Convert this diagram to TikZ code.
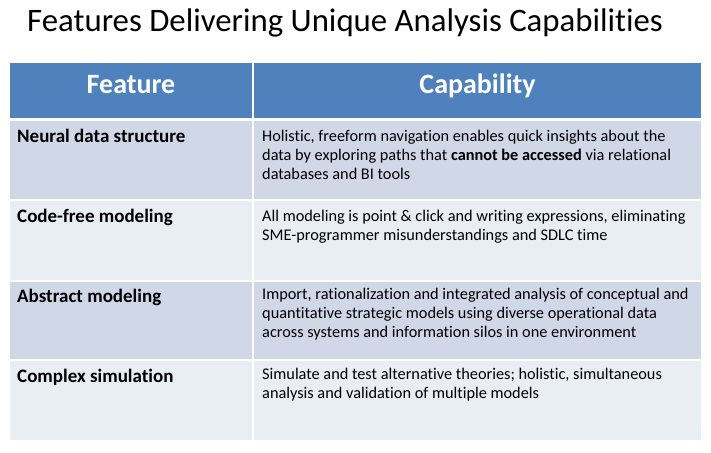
\documentclass[tikz,border=0pt]{standalone}
\usepackage{fontspec}
\setmainfont[Ligatures=NoCommon]{Carlito}
\definecolor{headBlue}{HTML}{4F81BD}
\definecolor{rowDark}{HTML}{D0D8E8}
\definecolor{rowLight}{HTML}{E9EDF4}
\newcommand{\tableLeft}{10}
\newcommand{\tableRight}{701}
\newcommand{\colSplit}{252}
\newcommand{\colGap}{2}
\newcommand{\featX}{17}
\newcommand{\capaX}{262}
\begin{document}
\begin{tikzpicture}[x=1pt, y=-1pt,
    feat/.style={anchor=base west, inner sep=0pt, font=\fontsize{19}{22}\selectfont\bfseries},
    capa/.style={anchor=north west, inner sep=0pt, align=left, font=\fontsize{16.3}{19.3}\selectfont},
    head/.style={anchor=base, inner sep=0pt, text=white, font=\fontsize{28}{32}\selectfont\bfseries}]
  \useasboundingbox (0,0) rectangle (711,452);
  \fill[white] (0,0) rectangle (711,452);
  \node (title) [anchor=base west, inner sep=0pt, font=\fontsize{32.8}{38}\selectfont] at (27,32)
    {Features Delivering Unique Analysis Capabilities};

%header row
\fill[headBlue] (\tableLeft,63) rectangle (\colSplit,118);
\fill[headBlue] (\colSplit+\colGap,63) rectangle (\tableRight,118);
\node (featHead) [head] at ({(\tableLeft+\colSplit)/2},93) {Feature};
\node (capaHead) [head] at ({(\colSplit+\colGap+\tableRight)/2},93) {Capability};

%body rows
\fill[rowDark] (\tableLeft,121) rectangle (\colSplit,199);
\fill[rowDark] (\colSplit+\colGap,121) rectangle (\tableRight,199);
\fill[rowLight] (\tableLeft,201) rectangle (\colSplit,280);
\fill[rowLight] (\colSplit+\colGap,201) rectangle (\tableRight,280);
\fill[rowDark] (\tableLeft,282) rectangle (\colSplit,359);
\fill[rowDark] (\colSplit+\colGap,282) rectangle (\tableRight,359);
\fill[rowLight] (\tableLeft,361) rectangle (\colSplit,440);
\fill[rowLight] (\colSplit+\colGap,361) rectangle (\tableRight,440);

\node (neural) [feat] at (\featX,142) {Neural data structure};
\node (neuralCapa) [capa] at (\capaX,141-13.5) {\strut Holistic, freeform navigation enables quick insights about the\\
  data by exploring paths that \textbf{cannot be accessed} via relational\\
  databases and BI tools};

\node (codefree) [feat] at (\featX,222) {Code-free modeling};
\node (codefreeCapa) [capa] at (\capaX,221-13.5) {\strut All modeling is point \& click and writing expressions, eliminating\\
  SME-programmer misunderstandings and SDLC time};

\node (abstract) [feat] at (\featX,302) {Abstract modeling};
\node (abstractCapa) [capa] at (\capaX,299-13.5) {\strut Import, rationalization and integrated analysis of conceptual and\\
  quantitative strategic models using diverse operational data\\
  across systems and information silos in one environment};

\node (complex) [feat] at (\featX,382) {Complex simulation};
\node (complexCapa) [capa] at (\capaX,379-13.5) {\strut Simulate and test alternative theories; holistic, simultaneous\\
  analysis and validation of multiple models};
\end{tikzpicture}
\end{document}
